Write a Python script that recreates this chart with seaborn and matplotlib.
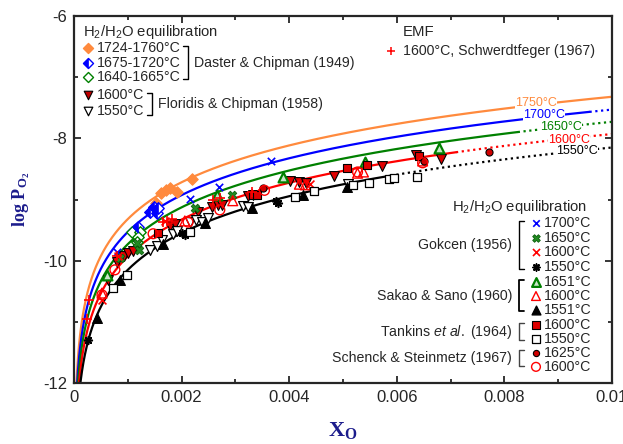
import numpy as np
import pandas as pd
import matplotlib
matplotlib.use("Agg")
import matplotlib.pyplot as plt
from matplotlib.markers import MarkerStyle
import seaborn as sns

# ---------------- data ----------------
# Sieverts-law isotherms: log PO2 at X_O = 0.01 and where the line turns dotted
line_temps = ["1750°C", "1700°C", "1650°C", "1600°C", "1550°C"]
line_logpo2_at_001 = [-7.32, -7.53, -7.73, -7.93, -8.15]
line_dotted_from = [0.0105, 0.0097, 0.0083, 0.0071, 0.0059]

# Daster & Chipman (1949)
dc_1740_x = [0.00152, 0.00161, 0.00171, 0.00178, 0.00191, 0.00219]
dc_1740_y = [-9.06, -8.89, -8.85, -8.81, -8.88, -8.67]
dc_1700_x = [0.00119, 0.00141, 0.00148, 0.00154, 0.00156]
dc_1700_y = [-9.45, -9.20, -9.12, -9.22, -9.14]
dc_1650_x = [0.00108, 0.00122, 0.00119, 0.00117]
dc_1650_y = [-9.53, -9.53, -9.61, -9.70]

# Floridis & Chipman (1958)
fc_1600_x = [0.00063, 0.00080, 0.00093, 0.00100, 0.00110, 0.00178, 0.00187, 0.00230, 0.00256, 0.00267,
             0.00276, 0.00323, 0.00332, 0.00401, 0.00419, 0.00432, 0.00484, 0.00573, 0.00636, 0.00683]
fc_1600_y = [-10.32, -10.02, -9.92, -9.87, -9.84, -9.43, -9.40, -9.20, -9.12, -9.09,
             -9.09, -8.94, -8.93, -8.70, -8.71, -8.73, -8.62, -8.45, -8.27, -8.34]
fc_1550_x = [0.00141, 0.00154, 0.00163, 0.00184, 0.00191, 0.00215, 0.00226, 0.00237, 0.00249, 0.00314, 0.00323, 0.00510]
fc_1550_y = [-9.83, -9.76, -9.66, -9.56, -9.52, -9.37, -9.34, -9.37, -9.30, -9.11, -9.12, -8.75]

# EMF, Schwerdtfeger (1967)
emf_1600_x = [0.00028, 0.00024, 0.00080, 0.00165, 0.00173, 0.00182, 0.00258, 0.00271, 0.00330]
emf_1600_y = [-10.64, -10.95, -9.92, -9.37, -9.35, -9.32, -9.01, -8.98, -8.88]

# Gokcen (1956)
gk_1700_x = [0.00080, 0.00215, 0.00269, 0.00367]
gk_1700_y = [-9.86, -8.99, -8.80, -8.37]
gk_1650_x = [0.00224, 0.00293, 0.00117, 0.00121, 0.00085]
gk_1650_y = [-9.14, -8.93, -9.71, -9.83, -9.96]
gk_1600_x = [0.00438, 0.00169, 0.00336, 0.00052, 0.00082]
gk_1600_y = [-8.75, -9.35, -8.89, -10.64, -9.92]
gk_1550_x = [0.00026, 0.00200, 0.00206, 0.00375, 0.00380]
gk_1550_y = [-11.30, -9.55, -9.58, -9.02, -9.06]

# Sakao & Sano (1960)
ss_1651_x = [0.00061, 0.00265, 0.00388, 0.00540, 0.00679]
ss_1651_y = [-10.23, -8.93, -8.63, -8.39, -8.16]
ss_1600_x = [0.00052, 0.00206, 0.00295, 0.00419, 0.00430, 0.00527, 0.00538, 0.00648]
ss_1600_y = [-10.53, -9.35, -9.02, -8.75, -8.76, -8.57, -8.55, -8.37]
ss_1551_x = [0.00043, 0.00085, 0.00165, 0.00243, 0.00330, 0.00425, 0.00507]
ss_1551_y = [-10.94, -10.32, -9.73, -9.38, -9.14, -8.93, -8.80]

# Tankins et al. (1964)
tk_1600_x = [0.00156, 0.00332, 0.00341, 0.00507, 0.00544, 0.00642]
tk_1600_y = [-9.55, -8.93, -8.93, -8.49, -8.44, -8.29]
tk_1550_x = [0.00072, 0.00098, 0.00215, 0.00410, 0.00447, 0.00518, 0.00549, 0.00586, 0.00594, 0.00638]
tk_1550_y = [-10.45, -10.23, -9.53, -8.96, -8.86, -8.76, -8.73, -8.67, -8.65, -8.63]

# Schenck & Steinmetz (1967)
sc_1625_x = [0.00351, 0.00651, 0.00772]
sc_1625_y = [-8.81, -8.37, -8.22]
sc_1600_x = [0.00052, 0.00076, 0.00147, 0.00212, 0.00271, 0.00354, 0.00527, 0.00648]
sc_1600_y = [-10.56, -10.15, -9.56, -9.37, -9.17, -8.85, -8.55, -8.40]

x_ticks = [0, 0.002, 0.004, 0.006, 0.008, 0.01]
x_ticklabels = ["0", "0.002", "0.004", "0.006", "0.008", "0.01"]
y_ticks = [-12, -10, -8, -6]

# ---------------- style ----------------
sns.set_style("ticks")
plt.rcParams["font.family"] = ["Liberation Sans", "DejaVu Sans"]
plt.rcParams["mathtext.fontset"] = "custom"
plt.rcParams["mathtext.rm"] = "Liberation Sans"
plt.rcParams["mathtext.it"] = "Liberation Sans:italic"
plt.rcParams["mathtext.bf"] = "Liberation Serif:bold"
plt.rcParams["mathtext.default"] = "rm"

ORANGE = "#ff8a3d"
BLUE = "#0000ff"
GREEN = "#008000"
RED = "#ff0000"
BLACK = "#000000"
NAVY = "#1c1c8c"
line_colors = [ORANGE, BLUE, GREEN, RED, BLACK]

fig = plt.figure(figsize=(6.23, 4.44), dpi=100)
ax = fig.add_axes([74 / 623, 1 - 383 / 444, 538 / 623, 367 / 444])

# ---------------- isotherm lines ----------------
for temp, c0, xd, col in zip(line_temps, line_logpo2_at_001, line_dotted_from, line_colors):
    xs = np.geomspace(2e-5, 0.0102, 500)
    ys = c0 + 2 * np.log10(xs / 0.01)
    solid = xs <= xd
    sns.lineplot(x=xs[solid], y=ys[solid], ax=ax, color=col, lw=1.6, sort=False,
                 estimator=None, zorder=2)
    if (~solid).any():
        i0 = max(np.argmax(~solid) - 1, 0)
        sns.lineplot(x=xs[i0:], y=ys[i0:], ax=ax, color=col, lw=1.6, linestyle=(0, (1, 1.6)),
                     sort=False, estimator=None, zorder=2)

label_pos = [(0.00859, -7.42), (0.00874, -7.62), (0.00905, -7.81), (0.00920, -8.02), (0.00935, -8.21)]
for temp, (lx, ly), col in zip(line_temps, label_pos, line_colors):
    ax.text(lx, ly, temp, color=col, fontsize=9, ha="center", va="center", zorder=3,
            bbox=dict(facecolor="white", edgecolor="none", pad=0.2))

# ---------------- data points ----------------
S = 40


def sc(x, y, **kw):
    kw.setdefault("s", S)
    kw.setdefault("zorder", 4)
    sns.scatterplot(x=x, y=y, ax=ax, legend=False, **kw)


# Daster & Chipman
sc(dc_1740_x, dc_1740_y, marker="D", color=ORANGE, edgecolor=ORANGE, s=34, linewidth=0.8)
sc(dc_1700_x, dc_1700_y, marker="D", facecolor="white", edgecolor=BLUE, s=34, linewidth=1.0)
sc(dc_1700_x, dc_1700_y, marker=MarkerStyle("D", fillstyle="left"), color=BLUE, edgecolor=BLUE, s=34,
   linewidth=0.5, zorder=5)
sc(dc_1650_x, dc_1650_y, marker="D", facecolor="white", edgecolor=GREEN, s=34, linewidth=1.0)
# Floridis & Chipman
sc(fc_1600_x, fc_1600_y, marker="v", color="#e00000", edgecolor=BLACK, s=50, linewidth=0.8)
sc(fc_1550_x, fc_1550_y, marker="v", facecolor="white", edgecolor=BLACK, s=50, linewidth=0.9)
# Gokcen
sc(gk_1700_x, gk_1700_y, marker="x", color=BLUE, s=28, linewidth=1.2)
sc(gk_1650_x, gk_1650_y, marker="X", color="#228b22", edgecolor="#0b5f0b", s=38, linewidth=0.6)
sc(gk_1600_x, gk_1600_y, marker="x", color=RED, s=32, linewidth=1.2)
sc(gk_1550_x, gk_1550_y, marker=(8, 2, 0), color=BLACK, s=30, linewidth=1.2)
# Sakao & Sano
sc(ss_1651_x, ss_1651_y, marker="^", facecolor="#c8e6c8", edgecolor=GREEN, s=50, linewidth=1.6)
sc(ss_1600_x, ss_1600_y, marker="^", facecolor="none", edgecolor=RED, s=50, linewidth=1.0)
sc(ss_1551_x, ss_1551_y, marker="^", color=BLACK, edgecolor=BLACK, s=50, linewidth=0.8)
# Tankins et al.
sc(tk_1600_x, tk_1600_y, marker="s", color="#e00000", edgecolor=BLACK, s=36, linewidth=0.8)
sc(tk_1550_x, tk_1550_y, marker="s", facecolor="white", edgecolor=BLACK, s=36, linewidth=0.9)
# Schenck & Steinmetz
sc(sc_1625_x, sc_1625_y, marker="o", color="#d00000", edgecolor=BLACK, s=26, linewidth=0.8)
sc(sc_1600_x, sc_1600_y, marker="o", facecolor="none", edgecolor=RED, s=50, linewidth=1.0)
# EMF
sc(emf_1600_x, emf_1600_y, marker="+", color=RED, s=45, linewidth=1.2)

# ---------------- axes ----------------
ax.set_xlim(0, 0.01)
ax.set_ylim(-12, -6)
ax.set_xticks(x_ticks)
ax.set_xticklabels(x_ticklabels)
ax.set_yticks(y_ticks)
ax.set_yticklabels([str(t) for t in y_ticks])
ax.set_xticks(np.arange(0.001, 0.01, 0.002), minor=True)
ax.set_yticks([-11, -9, -7], minor=True)
ax.tick_params(which="both", direction="in", top=True, right=True, width=1.3, labelsize=12, pad=5)
ax.tick_params(which="major", length=5)
ax.tick_params(which="minor", length=3)
for sp in ax.spines.values():
    sp.set_linewidth(1.6)
    sp.set_visible(True)

ax.set_xlabel(r"$\mathbf{X_O}$", fontsize=16, color=NAVY, labelpad=11)
ax.set_ylabel(r"$\mathbf{log\ P_{O_2}}$", fontsize=13, color=NAVY, labelpad=8)

# ---------------- custom legends ----------------
T = ax.transAxes
FS = 10.2


def lm(xa, ya, **kw):
    ax.scatter([xa], [ya], transform=T, clip_on=False, zorder=6, **kw)


def bracket(xa, y0, y1, side, tick=0.010, lw=1.0, color="black"):
    d = -tick if side == "left" else tick
    ax.plot([xa + d, xa, xa, xa + d], [y1, y1, y0, y0], transform=T, color=color, lw=lw,
            clip_on=False, zorder=6)


# top-left block
ax.text(0.0167, 0.956, r"H$_2$/H$_2$O equilibration", transform=T, fontsize=FS + 0.5, va="center")
mx, tx = 0.026, 0.0428
rows = [0.913, 0.872, 0.834, 0.785, 0.741]
labels_tl = ["1724-1760°C", "1675-1720°C", "1640-1665°C", "1600°C", "1550°C"]
lm(mx, rows[0], marker="D", color=ORANGE, s=26)
lm(mx, rows[1], marker="D", facecolor="white", edgecolor=BLUE, s=26, linewidths=1.0)
lm(mx, rows[1], marker=MarkerStyle("D", fillstyle="left"), color=BLUE, s=26, linewidths=0.5)
lm(mx, rows[2], marker="D", facecolor="white", edgecolor=GREEN, s=26, linewidths=1.0)
lm(mx, rows[3], marker="v", color="#c00000", edgecolors=BLACK, s=38, linewidths=0.8)
lm(mx, rows[4], marker="v", facecolor="white", edgecolors=BLACK, s=38, linewidths=0.9)
for r, lab in zip(rows, labels_tl):
    ax.text(tx, r, lab, transform=T, fontsize=FS, va="center")
bracket(0.212, 0.828, 0.918, "left")
ax.text(0.223, 0.873, "Daster & Chipman (1949)", transform=T, fontsize=FS, va="center")
bracket(0.145, 0.730, 0.790, "left")
ax.text(0.156, 0.760, "Floridis & Chipman (1958)", transform=T, fontsize=FS, va="center")

# EMF block
ax.text(0.6115, 0.956, "EMF", transform=T, fontsize=FS + 0.5, va="center")
lm(0.589, 0.905, marker="+", color=RED, s=40, linewidths=1.1)
ax.text(0.6115, 0.905, "1600°C, Schwerdtfeger (1967)", transform=T, fontsize=FS, va="center")

# right block
ax.text(0.7026, 0.4796, r"H$_2$/H$_2$O equilibration", transform=T, fontsize=FS + 0.5, va="center")
rmx, rtx = 0.8587, 0.8736
rrows = [0.436, 0.395, 0.357, 0.316, 0.275, 0.237, 0.199, 0.158, 0.120, 0.082, 0.044]
rlabels = ["1700°C", "1650°C", "1600°C", "1550°C", "1651°C", "1600°C", "1551°C",
           "1600°C", "1550°C", "1625°C", "1600°C"]
lm(rmx, rrows[0], marker="x", color=BLUE, s=22, linewidths=1.2)
lm(rmx, rrows[1], marker="X", color="#228b22", edgecolors="#0b5f0b", s=30, linewidths=0.6)
lm(rmx, rrows[2], marker="x", color=RED, s=26, linewidths=1.2)
lm(rmx, rrows[3], marker=(8, 2, 0), color=BLACK, s=24, linewidths=1.2)
lm(rmx, rrows[4], marker="^", facecolor="#c8e6c8", edgecolors=GREEN, s=40, linewidths=1.6)
lm(rmx, rrows[5], marker="^", facecolor="none", edgecolors=RED, s=40, linewidths=1.0)
lm(rmx, rrows[6], marker="^", color=BLACK, s=40)
lm(rmx, rrows[7], marker="s", color="#e00000", edgecolors=BLACK, s=28, linewidths=0.8)
lm(rmx, rrows[8], marker="s", facecolor="white", edgecolors=BLACK, s=28, linewidths=0.9)
lm(rmx, rrows[9], marker="o", color="#d00000", edgecolors=BLACK, s=20, linewidths=0.8)
lm(rmx, rrows[10], marker="o", facecolor="none", edgecolors=RED, s=40, linewidths=1.0)
for r, lab in zip(rrows, rlabels):
    ax.text(rtx, r, lab, transform=T, fontsize=FS, va="center")

bracket(0.827, 0.311, 0.441, "right")
ax.text(0.814, 0.376, "Gokcen (1956)", transform=T, fontsize=FS, va="center", ha="right")
bracket(0.827, 0.196, 0.281, "right", lw=1.3)
ax.text(0.814, 0.237, "Sakao & Sano (1960)", transform=T, fontsize=FS, va="center", ha="right")
bracket(0.827, 0.117, 0.163, "right", color="#444444")
ax.text(0.814, 0.140, r"Tankins $\mathit{et\ al.}$ (1964)", transform=T, fontsize=FS, va="center", ha="right")
bracket(0.827, 0.046, 0.090, "right", color="#444444")
ax.text(0.814, 0.068, "Schenck & Steinmetz (1967)", transform=T, fontsize=FS, va="center", ha="right")

fig.savefig("out.png", dpi=100)
